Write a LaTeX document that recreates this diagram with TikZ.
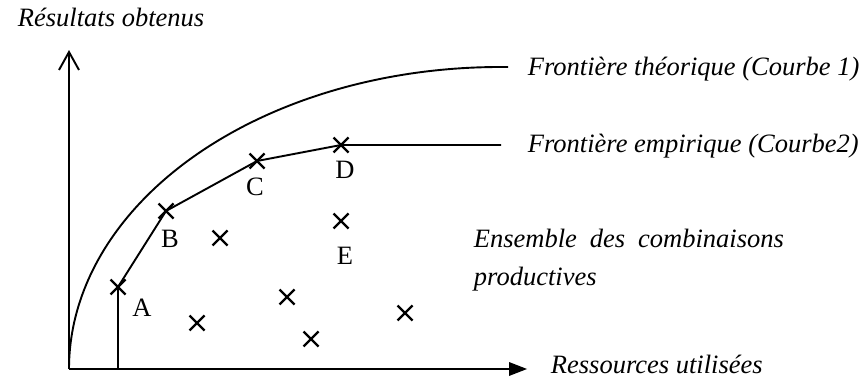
\documentclass[tikz,border=0pt]{standalone}
\usepackage{fontspec}
\setmainfont{Liberation Serif}
\usetikzlibrary{calc}
\begin{document}
\begin{tikzpicture}[x=1pt,y=-1pt,
  line width=1.9pt,
  lbl/.style={font=\fontsize{26.5}{30}\selectfont\itshape, anchor=base west, inner sep=0pt},
  let/.style={font=\fontsize{26.5}{30}\selectfont, anchor=base, inner sep=0pt},
  pt/.style={inner sep=0pt, minimum size=0pt},
  cross/.style={line width=2.3pt}]
\useasboundingbox (0,0) rectangle (866,379);
% axes
\coordinate (O) at (69,369);
\coordinate (ytip) at (69,52);
\coordinate (xtip) at (527,369);
\draw (O) -- (ytip);
\draw (59,70) -- (ytip) -- (79,70);
\draw (O) -- (510,369);
\fill (509,362) -- (xtip) -- (509,376) -- cycle;
% theoretical frontier
\draw plot[domain=180:90, samples=90] ({500+431*cos(\x)}, {369-302*sin(\x)}) -- (508,67);
% points
\coordinate (A0) at (118,369);
\node[pt] (A) at (118,287) {};
\node[pt] (B) at (166,211) {};
\node[pt] (C) at (257,161) {};
\node[pt] (D) at (341,145) {};
\coordinate (Dend) at (501,145);
\node[pt] (E) at (341,221) {};
\node[pt] (P1) at (220,238) {};
\node[pt] (P2) at (197,323) {};
\node[pt] (P3) at (287,297) {};
\node[pt] (P4) at (311,339) {};
\node[pt] (P5) at (405,313) {};
% empirical frontier
\draw (A0) -- (A.center) -- (B.center) -- (C.center) -- (D.center) -- (Dend);
% crosses
\foreach \p in {A,B,C,D,E,P1,P2,P3,P4,P5}{
  \draw[cross] ($(\p)+(-7.5,-7.5)$) -- ($(\p)+(7.5,7.5)$);
  \draw[cross] ($(\p)+(-7.5,7.5)$) -- ($(\p)+(7.5,-7.5)$);
}
% letters
\node[let] (lA) at (142,316) {A};
\node[let] (lB) at (170,247) {B};
\node[let] (lC) at (255,196) {C};
\node[let] (lD) at (345,179) {D};
\node[let] (lE) at (345,264) {E};
% texts
\node[lbl] (ty) at (17,27) {Résultats obtenus};
\node[lbl] (t1) at (527,76) {Frontière théorique (Courbe 1)};
\node[lbl] (t2) at (527,153) {Frontière empirique (Courbe2)};
\node[lbl] (t3) at (473,247) {\makebox[310pt][s]{Ensemble des combinaisons}};
\node[lbl] (t4) at (473,285) {productives};
\node[lbl] (tx) at (550,373) {Ressources utilisées};
\end{tikzpicture}
\end{document}
